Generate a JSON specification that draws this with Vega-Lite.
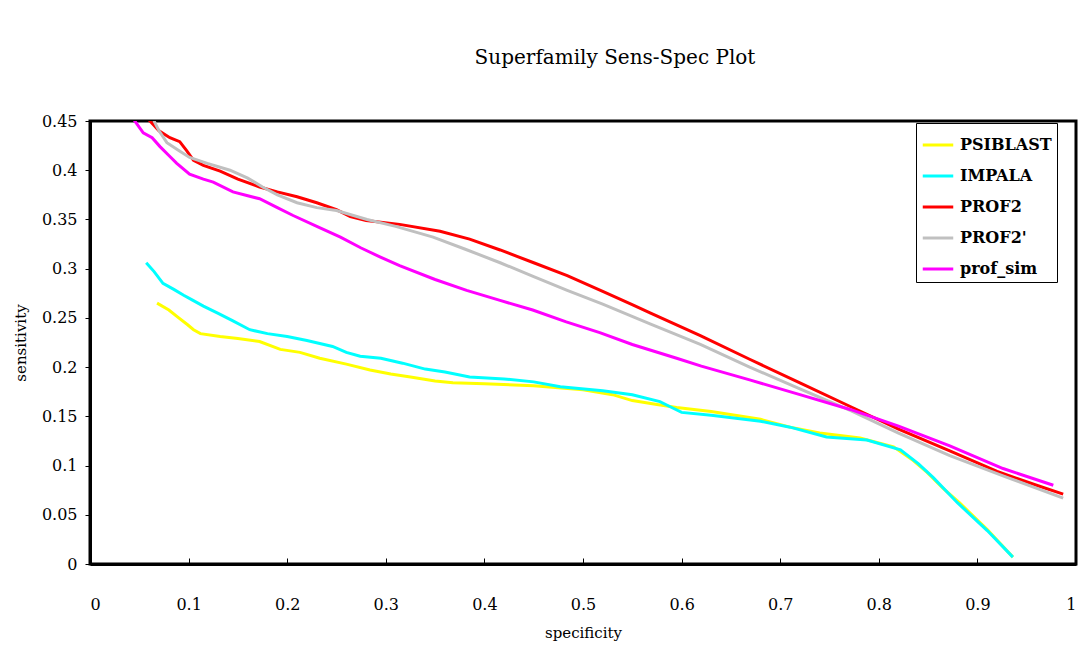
{
  "$schema": "https://vega.github.io/schema/vega-lite/v6.json",
  "autosize": {"type": "none"},
  "padding": {"left": 90, "top": 121, "right": 6, "bottom": 82},
  "width": 986,
  "height": 443,
  "background": "white",
  "title": {
    "text": "Superfamily Sens-Spec Plot",
    "font": "DejaVu Serif",
    "fontSize": 20,
    "fontWeight": "normal",
    "color": "black",
    "anchor": "middle",
    "dx": 32,
    "offset": 45
  },
  "data": {
    "values": [
      {"method": "PSIBLAST", "spec": 0.068, "sens": 0.265},
      {"method": "PSIBLAST", "spec": 0.08, "sens": 0.258},
      {"method": "PSIBLAST", "spec": 0.09, "sens": 0.25},
      {"method": "PSIBLAST", "spec": 0.099, "sens": 0.243},
      {"method": "PSIBLAST", "spec": 0.105, "sens": 0.238},
      {"method": "PSIBLAST", "spec": 0.112, "sens": 0.234},
      {"method": "PSIBLAST", "spec": 0.132, "sens": 0.231},
      {"method": "PSIBLAST", "spec": 0.15, "sens": 0.229},
      {"method": "PSIBLAST", "spec": 0.172, "sens": 0.226},
      {"method": "PSIBLAST", "spec": 0.193, "sens": 0.218},
      {"method": "PSIBLAST", "spec": 0.213, "sens": 0.215},
      {"method": "PSIBLAST", "spec": 0.233, "sens": 0.209},
      {"method": "PSIBLAST", "spec": 0.26, "sens": 0.203},
      {"method": "PSIBLAST", "spec": 0.284, "sens": 0.197},
      {"method": "PSIBLAST", "spec": 0.305, "sens": 0.193},
      {"method": "PSIBLAST", "spec": 0.325, "sens": 0.19},
      {"method": "PSIBLAST", "spec": 0.35, "sens": 0.186},
      {"method": "PSIBLAST", "spec": 0.368, "sens": 0.184},
      {"method": "PSIBLAST", "spec": 0.4, "sens": 0.183},
      {"method": "PSIBLAST", "spec": 0.45, "sens": 0.181},
      {"method": "PSIBLAST", "spec": 0.5, "sens": 0.177},
      {"method": "PSIBLAST", "spec": 0.53, "sens": 0.172},
      {"method": "PSIBLAST", "spec": 0.55, "sens": 0.166},
      {"method": "PSIBLAST", "spec": 0.575, "sens": 0.162},
      {"method": "PSIBLAST", "spec": 0.595, "sens": 0.159},
      {"method": "PSIBLAST", "spec": 0.63, "sens": 0.155},
      {"method": "PSIBLAST", "spec": 0.68, "sens": 0.147},
      {"method": "PSIBLAST", "spec": 0.71, "sens": 0.139},
      {"method": "PSIBLAST", "spec": 0.74, "sens": 0.133},
      {"method": "PSIBLAST", "spec": 0.781, "sens": 0.128},
      {"method": "PSIBLAST", "spec": 0.815, "sens": 0.119},
      {"method": "PSIBLAST", "spec": 0.835, "sens": 0.105},
      {"method": "PSIBLAST", "spec": 0.849, "sens": 0.093},
      {"method": "PSIBLAST", "spec": 0.865, "sens": 0.077},
      {"method": "PSIBLAST", "spec": 0.882, "sens": 0.062},
      {"method": "PSIBLAST", "spec": 0.91, "sens": 0.035},
      {"method": "PSIBLAST", "spec": 0.936, "sens": 0.007},

      {"method": "IMPALA", "spec": 0.057, "sens": 0.306},
      {"method": "IMPALA", "spec": 0.065, "sens": 0.297},
      {"method": "IMPALA", "spec": 0.074, "sens": 0.285},
      {"method": "IMPALA", "spec": 0.085, "sens": 0.279},
      {"method": "IMPALA", "spec": 0.095, "sens": 0.273},
      {"method": "IMPALA", "spec": 0.104, "sens": 0.268},
      {"method": "IMPALA", "spec": 0.115, "sens": 0.262},
      {"method": "IMPALA", "spec": 0.129, "sens": 0.255},
      {"method": "IMPALA", "spec": 0.145, "sens": 0.247},
      {"method": "IMPALA", "spec": 0.162, "sens": 0.238},
      {"method": "IMPALA", "spec": 0.18, "sens": 0.234},
      {"method": "IMPALA", "spec": 0.2, "sens": 0.231},
      {"method": "IMPALA", "spec": 0.22, "sens": 0.227},
      {"method": "IMPALA", "spec": 0.246, "sens": 0.221},
      {"method": "IMPALA", "spec": 0.26, "sens": 0.215},
      {"method": "IMPALA", "spec": 0.274, "sens": 0.211},
      {"method": "IMPALA", "spec": 0.295, "sens": 0.209},
      {"method": "IMPALA", "spec": 0.317, "sens": 0.204},
      {"method": "IMPALA", "spec": 0.34, "sens": 0.198},
      {"method": "IMPALA", "spec": 0.36, "sens": 0.195},
      {"method": "IMPALA", "spec": 0.385, "sens": 0.19},
      {"method": "IMPALA", "spec": 0.42, "sens": 0.188},
      {"method": "IMPALA", "spec": 0.45, "sens": 0.185},
      {"method": "IMPALA", "spec": 0.477, "sens": 0.18},
      {"method": "IMPALA", "spec": 0.52, "sens": 0.176},
      {"method": "IMPALA", "spec": 0.55, "sens": 0.172},
      {"method": "IMPALA", "spec": 0.578, "sens": 0.165},
      {"method": "IMPALA", "spec": 0.59, "sens": 0.159},
      {"method": "IMPALA", "spec": 0.6, "sens": 0.154},
      {"method": "IMPALA", "spec": 0.63, "sens": 0.151},
      {"method": "IMPALA", "spec": 0.68, "sens": 0.145},
      {"method": "IMPALA", "spec": 0.71, "sens": 0.139},
      {"method": "IMPALA", "spec": 0.747, "sens": 0.129},
      {"method": "IMPALA", "spec": 0.788, "sens": 0.126},
      {"method": "IMPALA", "spec": 0.822, "sens": 0.116},
      {"method": "IMPALA", "spec": 0.84, "sens": 0.102},
      {"method": "IMPALA", "spec": 0.855, "sens": 0.088},
      {"method": "IMPALA", "spec": 0.88, "sens": 0.062},
      {"method": "IMPALA", "spec": 0.91, "sens": 0.034},
      {"method": "IMPALA", "spec": 0.936, "sens": 0.007},

      {"method": "PROF2", "spec": 0.059, "sens": 0.452},
      {"method": "PROF2", "spec": 0.07, "sens": 0.44},
      {"method": "PROF2", "spec": 0.081, "sens": 0.433},
      {"method": "PROF2", "spec": 0.091, "sens": 0.429},
      {"method": "PROF2", "spec": 0.098, "sens": 0.42},
      {"method": "PROF2", "spec": 0.105, "sens": 0.41},
      {"method": "PROF2", "spec": 0.115, "sens": 0.405},
      {"method": "PROF2", "spec": 0.132, "sens": 0.399},
      {"method": "PROF2", "spec": 0.15, "sens": 0.391},
      {"method": "PROF2", "spec": 0.172, "sens": 0.383},
      {"method": "PROF2", "spec": 0.19, "sens": 0.378},
      {"method": "PROF2", "spec": 0.21, "sens": 0.373},
      {"method": "PROF2", "spec": 0.23, "sens": 0.367},
      {"method": "PROF2", "spec": 0.25, "sens": 0.36},
      {"method": "PROF2", "spec": 0.264, "sens": 0.353},
      {"method": "PROF2", "spec": 0.28, "sens": 0.349},
      {"method": "PROF2", "spec": 0.314, "sens": 0.345},
      {"method": "PROF2", "spec": 0.355, "sens": 0.338},
      {"method": "PROF2", "spec": 0.385, "sens": 0.33},
      {"method": "PROF2", "spec": 0.416, "sens": 0.319},
      {"method": "PROF2", "spec": 0.45, "sens": 0.306},
      {"method": "PROF2", "spec": 0.484, "sens": 0.293},
      {"method": "PROF2", "spec": 0.52, "sens": 0.277},
      {"method": "PROF2", "spec": 0.551, "sens": 0.263},
      {"method": "PROF2", "spec": 0.568, "sens": 0.255},
      {"method": "PROF2", "spec": 0.619, "sens": 0.232},
      {"method": "PROF2", "spec": 0.669, "sens": 0.208},
      {"method": "PROF2", "spec": 0.72, "sens": 0.184},
      {"method": "PROF2", "spec": 0.771, "sens": 0.16},
      {"method": "PROF2", "spec": 0.82, "sens": 0.137},
      {"method": "PROF2", "spec": 0.872, "sens": 0.115},
      {"method": "PROF2", "spec": 0.92, "sens": 0.094},
      {"method": "PROF2", "spec": 0.96, "sens": 0.08},
      {"method": "PROF2", "spec": 0.987, "sens": 0.071},

      {"method": "PROF2'", "spec": 0.064, "sens": 0.452},
      {"method": "PROF2'", "spec": 0.07, "sens": 0.44},
      {"method": "PROF2'", "spec": 0.078, "sens": 0.428},
      {"method": "PROF2'", "spec": 0.09, "sens": 0.42},
      {"method": "PROF2'", "spec": 0.101, "sens": 0.413},
      {"method": "PROF2'", "spec": 0.119, "sens": 0.407},
      {"method": "PROF2'", "spec": 0.142, "sens": 0.4},
      {"method": "PROF2'", "spec": 0.16, "sens": 0.392},
      {"method": "PROF2'", "spec": 0.175, "sens": 0.383},
      {"method": "PROF2'", "spec": 0.19, "sens": 0.375},
      {"method": "PROF2'", "spec": 0.21, "sens": 0.367},
      {"method": "PROF2'", "spec": 0.23, "sens": 0.362},
      {"method": "PROF2'", "spec": 0.25, "sens": 0.359},
      {"method": "PROF2'", "spec": 0.281, "sens": 0.35},
      {"method": "PROF2'", "spec": 0.31, "sens": 0.343},
      {"method": "PROF2'", "spec": 0.348, "sens": 0.332},
      {"method": "PROF2'", "spec": 0.38, "sens": 0.32},
      {"method": "PROF2'", "spec": 0.416, "sens": 0.306},
      {"method": "PROF2'", "spec": 0.45, "sens": 0.292},
      {"method": "PROF2'", "spec": 0.484, "sens": 0.278},
      {"method": "PROF2'", "spec": 0.52, "sens": 0.264},
      {"method": "PROF2'", "spec": 0.551, "sens": 0.251},
      {"method": "PROF2'", "spec": 0.568, "sens": 0.244},
      {"method": "PROF2'", "spec": 0.619, "sens": 0.223},
      {"method": "PROF2'", "spec": 0.669, "sens": 0.2},
      {"method": "PROF2'", "spec": 0.72, "sens": 0.178},
      {"method": "PROF2'", "spec": 0.771, "sens": 0.156},
      {"method": "PROF2'", "spec": 0.82, "sens": 0.133},
      {"method": "PROF2'", "spec": 0.872, "sens": 0.11},
      {"method": "PROF2'", "spec": 0.93, "sens": 0.088},
      {"method": "PROF2'", "spec": 0.987, "sens": 0.067},

      {"method": "prof_sim", "spec": 0.044, "sens": 0.452},
      {"method": "prof_sim", "spec": 0.054, "sens": 0.438},
      {"method": "prof_sim", "spec": 0.063, "sens": 0.433},
      {"method": "prof_sim", "spec": 0.071, "sens": 0.424},
      {"method": "prof_sim", "spec": 0.08, "sens": 0.415},
      {"method": "prof_sim", "spec": 0.088, "sens": 0.407},
      {"method": "prof_sim", "spec": 0.101, "sens": 0.396},
      {"method": "prof_sim", "spec": 0.115, "sens": 0.391},
      {"method": "prof_sim", "spec": 0.125, "sens": 0.388},
      {"method": "prof_sim", "spec": 0.145, "sens": 0.378},
      {"method": "prof_sim", "spec": 0.16, "sens": 0.374},
      {"method": "prof_sim", "spec": 0.172, "sens": 0.371},
      {"method": "prof_sim", "spec": 0.19, "sens": 0.362},
      {"method": "prof_sim", "spec": 0.206, "sens": 0.354},
      {"method": "prof_sim", "spec": 0.23, "sens": 0.343},
      {"method": "prof_sim", "spec": 0.254, "sens": 0.332},
      {"method": "prof_sim", "spec": 0.275, "sens": 0.321},
      {"method": "prof_sim", "spec": 0.294, "sens": 0.312},
      {"method": "prof_sim", "spec": 0.314, "sens": 0.303},
      {"method": "prof_sim", "spec": 0.35, "sens": 0.289},
      {"method": "prof_sim", "spec": 0.382, "sens": 0.278},
      {"method": "prof_sim", "spec": 0.415, "sens": 0.268},
      {"method": "prof_sim", "spec": 0.449, "sens": 0.258},
      {"method": "prof_sim", "spec": 0.483, "sens": 0.246},
      {"method": "prof_sim", "spec": 0.517, "sens": 0.235},
      {"method": "prof_sim", "spec": 0.55, "sens": 0.223},
      {"method": "prof_sim", "spec": 0.595, "sens": 0.209},
      {"method": "prof_sim", "spec": 0.62, "sens": 0.201},
      {"method": "prof_sim", "spec": 0.669, "sens": 0.187},
      {"method": "prof_sim", "spec": 0.72, "sens": 0.172},
      {"method": "prof_sim", "spec": 0.771, "sens": 0.157},
      {"method": "prof_sim", "spec": 0.82, "sens": 0.14},
      {"method": "prof_sim", "spec": 0.872, "sens": 0.12},
      {"method": "prof_sim", "spec": 0.926, "sens": 0.097},
      {"method": "prof_sim", "spec": 0.977, "sens": 0.08}
    ]
  },
  "mark": {"type": "line", "strokeWidth": 3, "clip": true, "interpolate": "linear"},
  "encoding": {
    "x": {
      "field": "spec",
      "type": "quantitative",
      "title": "specificity",
      "scale": {"domain": [0, 1], "nice": false, "zero": true},
      "axis": {
        "values": [0, 0.1, 0.2, 0.3, 0.4, 0.5, 0.6, 0.7, 0.8, 0.9, 1],
        "format": "~g",
        "tickSize": -6,
        "labelPadding": 38,
        "titlePadding": 13
      }
    },
    "y": {
      "field": "sens",
      "type": "quantitative",
      "title": "sensitivity",
      "scale": {"domain": [0, 0.45], "nice": false},
      "axis": {
        "values": [0, 0.05, 0.1, 0.15, 0.2, 0.25, 0.3, 0.35, 0.4, 0.45],
        "format": "~g",
        "tickSize": 5,
        "labelPadding": 8,
        "titlePadding": 13
      }
    },
    "color": {
      "field": "method",
      "type": "nominal",
      "scale": {
        "domain": ["PSIBLAST", "IMPALA", "PROF2", "PROF2'", "prof_sim"],
        "range": ["#FFFF00", "#00FFFF", "#FF0000", "#C0C0C0", "#FF00FF"]
      },
      "legend": {
        "title": null,
        "orient": "none",
        "legendX": 826,
        "legendY": 2,
        "strokeColor": "black",
        "fillColor": "white",
        "padding": 5,
        "symbolType": "stroke",
        "symbolSize": 930,
        "symbolStrokeWidth": 3,
        "labelFont": "DejaVu Serif",
        "labelFontSize": 16,
        "labelFontWeight": "bold",
        "labelColor": "black",
        "labelOffset": 5,
        "rowPadding": 6
      }
    }
  },
  "config": {
    "view": {"stroke": "black", "strokeWidth": 3},
    "axis": {
      "grid": false,
      "domainColor": "black",
      "domainWidth": 3,
      "tickColor": "black",
      "tickWidth": 1,
      "labelFont": "DejaVu Serif",
      "labelFontSize": 16,
      "labelColor": "black",
      "titleFont": "DejaVu Serif",
      "titleFontSize": 15,
      "titleFontWeight": "normal",
      "titleColor": "black"
    }
  }
}
